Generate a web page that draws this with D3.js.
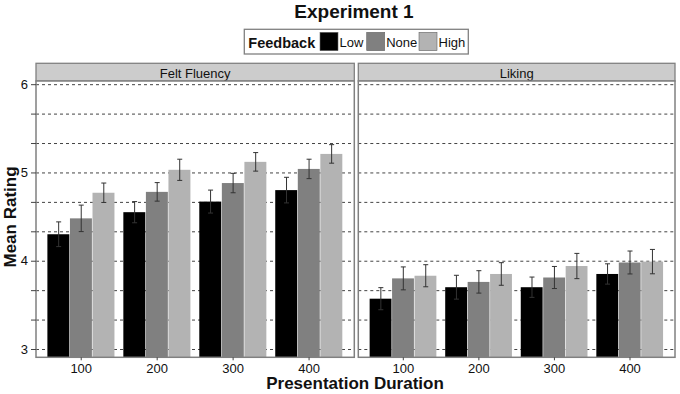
<!DOCTYPE html>
<html>
<head>
<meta charset="utf-8">
<script src="https://cdn.jsdelivr.net/npm/d3@7/dist/d3.min.js"></script>
<style>
  html, body { margin: 0; padding: 0; background: #fff; }
  svg { display: block; font-family: "Liberation Sans", Arial, sans-serif; }
</style>
</head>
<body>
<svg id="chart" width="680" height="394"></svg>
<script>
// ---- data ----
const durations = ["100", "200", "300", "400"];
const feedbackLevels = ["Low", "None", "High"];
const panelNames = ["Felt Fluency", "Liking"];

const fluencyLow  = [4.30, 4.55, 4.67, 4.80];
const fluencyNone = [4.48, 4.78, 4.88, 5.04];
const fluencyHigh = [4.77, 5.03, 5.12, 5.21];
const fluencyLowSE  = [0.14, 0.12, 0.13, 0.145];
const fluencyNoneSE = [0.15, 0.105, 0.11, 0.11];
const fluencyHighSE = [0.11, 0.12, 0.105, 0.105];

const likingLow  = [3.57, 3.70, 3.70, 3.85];
const likingNone = [3.80, 3.76, 3.81, 3.98];
const likingHigh = [3.83, 3.85, 3.94, 3.99];
const likingLowSE  = [0.125, 0.135, 0.115, 0.115];
const likingNoneSE = [0.13, 0.127, 0.125, 0.13];
const likingHighSE = [0.125, 0.128, 0.143, 0.138];

const yTickValues = [3, 10/3, 11/3, 4, 13/3, 14/3, 5, 16/3, 17/3, 6];
const yTickLabels = ["3", "", "", "4", "", "", "5", "", "", "6"];

// ---- build table ----
const panelData = [
  { name: panelNames[0], means: [fluencyLow, fluencyNone, fluencyHigh], ses: [fluencyLowSE, fluencyNoneSE, fluencyHighSE] },
  { name: panelNames[1], means: [likingLow, likingNone, likingHigh], ses: [likingLowSE, likingNoneSE, likingHighSE] }
];
panelData.forEach(p => {
  p.rows = [];
  durations.forEach((d, i) => feedbackLevels.forEach((f, j) => {
    p.rows.push({ duration: d, feedback: f, mean: p.means[j][i], se: p.ses[j][i] });
  }));
});

// ---- layout ----
const svg = d3.select("#chart");
const panelTop = 81, panelBottom = 357.3;
const stripTop = 63.3;
const panelX = [[36, 354.3], [358.3, 675]];
const colors = d3.scaleOrdinal().domain(feedbackLevels).range(["#000000", "#808080", "#b3b3b3"]);
const borderCol = "#808080";

const y = d3.scaleLinear().domain([2.906, 6.036]).range([panelBottom, panelTop]);

// title
svg.append("text").attr("x", 354).attr("y", 17.5).attr("text-anchor", "middle")
  .attr("font-size", 19).attr("font-weight", "bold").attr("fill", "#111").text("Experiment 1");

// legend
const lg = svg.append("g");
lg.append("rect").attr("x", 244.3).attr("y", 29.3).attr("width", 224).attr("height", 24.7)
  .attr("fill", "#fff").attr("stroke", borderCol).attr("stroke-width", 1.3);
lg.append("text").attr("x", 248.3).attr("y", 47.5).attr("font-size", 14.5).attr("font-weight", "bold")
  .attr("fill", "#111").text("Feedback");
const keyX = [320, 366.7, 419];
feedbackLevels.forEach((f, i) => {
  lg.append("rect").attr("x", keyX[i]).attr("y", 32.3).attr("width", 18).attr("height", 18.4)
    .attr("fill", colors(f)).attr("stroke", "#666").attr("stroke-width", 0.6);
  lg.append("text").attr("x", keyX[i] + 19.5).attr("y", 46.5).attr("font-size", 13).attr("fill", "#111").text(f);
});

// panels
panelData.forEach((p, pi) => {
  const [x0, x1] = panelX[pi];
  const w = x1 - x0;
  const g = svg.append("g").attr("transform", `translate(${x0},0)`);
  const x = d3.scaleBand().domain(durations).range([0, w]).paddingInner(0.109).paddingOuter(0.15);
  const xi = d3.scaleBand().domain(feedbackLevels).range([0, x.bandwidth()]).padding(0);

  // strip
  g.append("rect").attr("x", 0).attr("y", stripTop).attr("width", w).attr("height", panelTop - stripTop)
    .attr("fill", "#cccccc").attr("stroke", borderCol).attr("stroke-width", 1.3);
  g.append("text").attr("x", w / 2).attr("y", 77.5).attr("text-anchor", "middle")
    .attr("font-size", 13).attr("fill", "#111").text(p.name);

  // panel background
  g.append("rect").attr("x", 0).attr("y", panelTop).attr("width", w).attr("height", panelBottom - panelTop)
    .attr("fill", "#fff");

  // gridlines
  const grid = g.append("g").call(d3.axisLeft(y).tickValues(yTickValues).tickSize(-w).tickFormat(""));
  grid.select(".domain").remove();
  grid.selectAll(".tick line").attr("stroke", "#444").attr("stroke-width", 1).attr("stroke-dasharray", "3,3");

  // bars
  const groups = g.selectAll(".grp").data(durations).join("g")
    .attr("transform", d => `translate(${x(d)},0)`);
  g.selectAll(".bar").data(p.rows).join("rect")
    .attr("x", d => x(d.duration) + xi(d.feedback))
    .attr("width", xi.bandwidth() - 0.6)
    .attr("y", d => y(d.mean))
    .attr("height", d => y.range()[0] - y(d.mean))
    .attr("fill", d => colors(d.feedback));

  // error bars
  const eb = g.selectAll(".eb").data(p.rows).join("g").attr("stroke", "#333").attr("stroke-width", 1);
  eb.append("line")
    .attr("x1", d => x(d.duration) + xi(d.feedback) + xi.bandwidth() / 2)
    .attr("x2", d => x(d.duration) + xi(d.feedback) + xi.bandwidth() / 2)
    .attr("y1", d => y(d.mean - d.se)).attr("y2", d => y(d.mean + d.se));
  [1, -1].forEach(s => {
    eb.append("line")
      .attr("x1", d => x(d.duration) + xi(d.feedback) + xi.bandwidth() / 2 - 2.5)
      .attr("x2", d => x(d.duration) + xi(d.feedback) + xi.bandwidth() / 2 + 2.5)
      .attr("y1", d => y(d.mean + s * d.se)).attr("y2", d => y(d.mean + s * d.se));
  });

  // panel border
  g.append("rect").attr("x", 0).attr("y", panelTop).attr("width", w).attr("height", panelBottom - panelTop)
    .attr("fill", "none").attr("stroke", borderCol).attr("stroke-width", 1.5);

  // x axis
  const xa = g.append("g").attr("transform", `translate(0,${panelBottom})`)
    .call(d3.axisBottom(x).tickSize(3).tickPadding(3));
  xa.select(".domain").remove();
  xa.selectAll(".tick line").attr("stroke", "#444");
  xa.selectAll(".tick text").attr("font-size", 13).attr("fill", "#111")
    .attr("font-family", "Liberation Sans, Arial, sans-serif");

  // y axis (left panel only)
  if (pi === 0) {
    const ya = g.append("g").call(d3.axisLeft(y).tickValues(yTickValues).tickSize(5).tickPadding(3)
      .tickFormat((d, i) => yTickLabels[i]));
    ya.select(".domain").remove();
    ya.selectAll(".tick line").attr("stroke", "#444");
    ya.selectAll(".tick text").attr("font-size", 13).attr("fill", "#111")
      .attr("font-family", "Liberation Sans, Arial, sans-serif");
  }
});

// axis titles
svg.append("text").attr("x", 355).attr("y", 389).attr("text-anchor", "middle")
  .attr("font-size", 17).attr("font-weight", "bold").attr("fill", "#111").text("Presentation Duration");
svg.append("text").attr("transform", "translate(16,217) rotate(-90)").attr("text-anchor", "middle")
  .attr("font-size", 17).attr("font-weight", "bold").attr("fill", "#111").text("Mean Rating");
</script>
</body>
</html>
